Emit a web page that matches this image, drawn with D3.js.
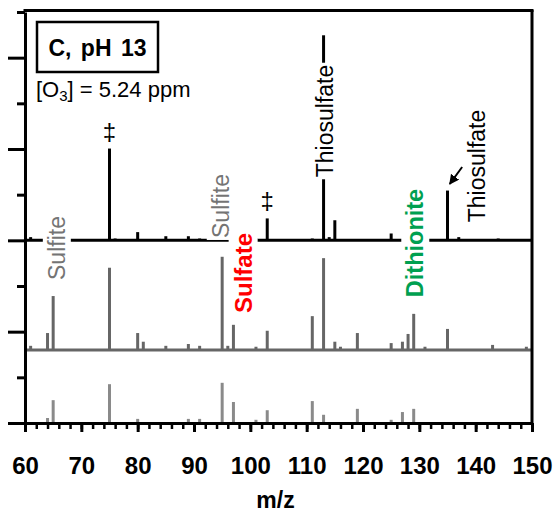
<!DOCTYPE html>
<html>
<head>
<meta charset="utf-8">
<script src="https://cdn.jsdelivr.net/npm/d3@7"></script>
<style>
html,body{margin:0;padding:0;background:#fff;}
text{font-family:"Liberation Sans",Arial,sans-serif;}
</style>
</head>
<body>
<svg id="chart" width="556" height="513"></svg>
<script>
// ---- data (m/z, relative intensity in axis units) ----
const topMz   = [61, 75, 76, 80, 85, 89, 91, 101, 103, 111, 113, 114, 115, 125, 135, 137, 144];
const topInt  = [0.07, 2.01, 0.04, 0.18, 0.09, 0.09, 0.04, 0.04, 0.48, 0.04, 4.49, 0.07, 0.44, 0.15, 1.09, 0.07, 0.04];

const midMz   = [61, 64, 65, 67, 75, 80, 81, 85, 89, 91, 95, 96, 97, 101, 103, 111, 113, 115, 116, 119, 125, 127, 128, 129, 131, 135, 143, 149];
const midInt  = [0.09, 0.37, 1.18, 0.02, 1.80, 0.37, 0.18, 0.09, 0.13, 0.09, 2.04, 0.09, 0.55, 0.07, 0.42, 0.74, 2.01, 0.18, 0.07, 0.37, 0.15, 0.18, 0.35, 0.79, 0.07, 0.46, 0.11, 0.07];

const botMz   = [64, 65, 75, 80, 89, 91, 95, 97, 101, 103, 111, 113, 119, 125, 127, 129];
const botInt  = [0.11, 0.50, 0.85, 0.09, 0.09, 0.09, 0.88, 0.46, 0.07, 0.28, 0.48, 0.18, 0.31, 0.07, 0.24, 0.31];

const xTickLabels = [60, 70, 80, 90, 100, 110, 120, 130, 140, 150];
const panelBase = [4.0, 1.6, 0.0];     // baselines of the three stacked spectra (axis units)
const panelColor = ["#000000", "#666666", "#8a8a8a"];

// ---- scales ----
const svg = d3.select("#chart");
const x = d3.scaleLinear().domain([60, 150]).range([25, 532]);
const y = d3.scaleLinear().domain([0, 9]).range([423, 12]);

// ---- spectra ----
const panels = [
  {mz: topMz, v: topInt},
  {mz: midMz, v: midInt},
  {mz: botMz, v: botInt}
];

svg.append("line").attr("x1", x(60)).attr("x2", x(150))
   .attr("y1", y(panelBase[1])).attr("y2", y(panelBase[1]))
   .attr("stroke", panelColor[1]).attr("stroke-width", 3);

panels.forEach((p, i) => {
  svg.append("g").selectAll("line").data(p.mz.map((m, k) => [m, p.v[k]])).join("line")
    .attr("x1", d => x(d[0])).attr("x2", d => x(d[0]))
    .attr("y1", y(panelBase[i])).attr("y2", d => y(panelBase[i] + d[1]))
    .attr("stroke", panelColor[i]).attr("stroke-width", 3);
});

svg.append("line").attr("x1", x(60)).attr("x2", x(150))
   .attr("y1", y(panelBase[0])).attr("y2", y(panelBase[0]))
   .attr("stroke", "#000").attr("stroke-width", 3);

// ---- labels with white backgrounds ----
function vlabel(mz, yc, txt, color, size, weight) {
  const g = svg.append("g").attr("transform", `translate(${x(mz)},${yc}) rotate(-90)`);
  const t = g.append("text").attr("text-anchor", "middle").attr("dy", "0.36em")
    .attr("font-size", size).attr("font-weight", weight).attr("fill", color).text(txt);
  const bb = t.node().getBBox();
  g.insert("rect", "text").attr("x", bb.x - 2).attr("y", bb.y - 1)
    .attr("width", bb.width + 4).attr("height", bb.height + 2).attr("fill", "#fff");
}
vlabel(65.6, 248, "Sulfite", "#747474", 23, "normal");
vlabel(94.7, 206, "Sulfite", "#747474", 23, "normal");
vlabel(98.7, 273, "Sulfate", "#ff0000", 24, "bold");
vlabel(129.2, 243, "Dithionite", "#00a050", 23.5, "bold");
vlabel(113.2, 121, "Thiosulfate", "#000000", 23, "normal");
vlabel(140.2, 166, "Thiosulfate", "#000000", 23, "normal");

// double dagger markers
[[75, 2.01], [103, 0.48]].forEach(d => {
  svg.append("text").attr("x", x(d[0])).attr("y", y(panelBase[0] + d[1]) - 9)
    .attr("text-anchor", "middle").attr("font-size", 24).text("‡");
});

// arrow to thiosulfate peak
svg.append("defs").append("marker").attr("id", "ah").attr("viewBox", "0 0 10 10")
  .attr("refX", 9).attr("refY", 5).attr("markerWidth", 5).attr("markerHeight", 5)
  .attr("orient", "auto").append("path").attr("d", "M0,0L10,5L0,10z").attr("fill", "#000");
svg.append("line").attr("x1", x(137.6)).attr("y1", 167).attr("x2", x(135.4)).attr("y2", 184)
  .attr("stroke", "#000").attr("stroke-width", 2).attr("marker-end", "url(#ah)");

// title box
svg.append("rect").attr("x", 37).attr("y", 22).attr("width", 121).attr("height", 50)
  .attr("fill", "#fff").attr("stroke", "#000").attr("stroke-width", 2.5);
svg.append("text").attr("x", 97.5).attr("y", 56).attr("text-anchor", "middle")
  .attr("font-size", 23).attr("font-weight", "bold").attr("word-spacing", 3).text("C, pH 13");
const o3 = svg.append("text").attr("x", 36).attr("y", 97).attr("font-size", 22);
o3.append("tspan").text("[O");
o3.append("tspan").attr("font-size", 15).attr("dy", 4).text("3");
o3.append("tspan").attr("dy", -4).text("] = 5.24 ppm");

// ---- frame ----
svg.append("line").attr("x1", x(60) - 1.5).attr("x2", x(150) + 1.5).attr("y1", 10.5).attr("y2", 10.5)
  .attr("stroke", "#000").attr("stroke-width", 3);
svg.append("line").attr("x1", x(150)).attr("x2", x(150)).attr("y1", 10).attr("y2", 423)
  .attr("stroke", "#000").attr("stroke-width", 3);

// left axis
const yAxis = d3.axisLeft(y).tickValues(d3.range(0, 10)).tickFormat("").tickSizeOuter(0);
const gy = svg.append("g").attr("transform", `translate(${x(60)},0)`).call(yAxis);
gy.select(".domain").attr("stroke-width", 3);
gy.selectAll(".tick line").attr("stroke-width", 3)
  .attr("x2", d => d % 2 === 0 ? -17 : -8);

// bottom axis
const xMinor = d3.axisBottom(x).tickValues(d3.range(60, 151, 2)).tickFormat("").tickSize(6).tickSizeOuter(0);
const gxm = svg.append("g").attr("transform", `translate(0,${y(0)})`).call(xMinor);
gxm.selectAll(".tick line").attr("stroke-width", 2.5);
const xAxis = d3.axisBottom(x).tickValues(xTickLabels).tickSize(9).tickSizeOuter(0).tickPadding(25);
const gx = svg.append("g").attr("transform", `translate(0,${y(0)})`).call(xAxis);
gx.select(".domain").attr("stroke-width", 3);
gxm.select(".domain").remove();
gx.selectAll(".tick line").attr("stroke-width", 3);
gx.selectAll(".tick text").attr("font-size", 24).attr("font-weight", "bold")
  .attr("font-family", "Liberation Sans, Arial, sans-serif").attr("fill", "#000");

svg.append("text").attr("x", (x(60) + x(150)) / 2 - 3).attr("y", 508).attr("text-anchor", "middle")
  .attr("font-size", 23).attr("font-weight", "bold").text("m/z");
</script>
</body>
</html>
